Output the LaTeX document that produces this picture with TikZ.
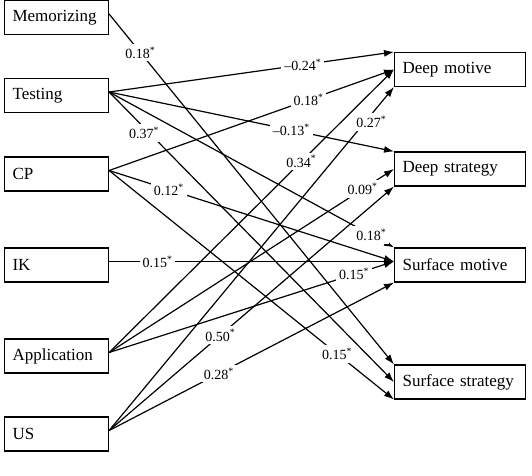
\documentclass[tikz,border=0pt]{standalone}
\usepackage{fontspec}
\setmainfont{Liberation Serif}
\usetikzlibrary{arrows.meta}
\newcommand\psig{\textsuperscript{*}}
\begin{document}
\begin{tikzpicture}[x=1pt,y=-1pt,
  box/.style={draw, line width=1.1pt, minimum height=34pt, inner xsep=8pt, inner ysep=0pt,
    align=left, font=\fontsize{17}{20}\selectfont, anchor=west},
  lbox/.style={box, text width=88pt},
  rbox/.style={box, text width=115pt},
  arr/.style={line width=1.2pt, -{Latex[length=10pt,width=7pt]}},
  lab/.style={fill=white, inner xsep=3pt, inner ysep=3pt, font=\fontsize{14}{16}\selectfont}]
\useasboundingbox (0,0) rectangle (532,475);
% left boxes
\node[lbox] (mem) at (4,17.5) {Memorizing};
\node[lbox] (tst) at (4,95.5) {Testing};
\node[lbox] (cp)  at (4,174) {CP};
\node[lbox] (ik)  at (4,265) {IK};
\node[lbox] (app) at (4,356) {Application};
\node[lbox] (us)  at (4,434) {US};
% right boxes
\node[rbox] (dm) at (394,69.5) {Deep motive};
\node[rbox] (ds) at (394,169) {Deep strategy};
\node[rbox] (sm) at (394,265) {Surface motive};
\node[rbox] (ss) at (394,382) {Surface strategy};
% source points
\coordinate (memo) at ([yshift=3.5pt]mem.east);
\coordinate (tsto) at ([yshift=3.5pt]tst.east);
\coordinate (cpo)  at ([yshift=3.5pt]cp.east);
\coordinate (iko)  at ([yshift=3.5pt]ik.east);
\coordinate (appo) at ([yshift=3.5pt]app.east);
\coordinate (uso)  at ([yshift=3.5pt]us.east);
\coordinate (smw)  at ([yshift=3.5pt]sm.west);
% paths
\draw[arr] (memo) -- node[lab,pos=0.11]{0.18\psig} (ss.north west);
\draw[arr] (tsto) -- node[lab,pos=0.68]{--0.24\psig} (dm.north west);
\draw[arr] (tsto) -- node[lab,pos=0.64]{--0.13\psig} (ds.north west);
\draw[arr] (tsto) -- node[lab,pos=0.92]{0.18\psig} (sm.north west);
\draw[arr] (tsto) -- node[lab,pos=0.14,xshift=-5pt]{0.37\psig} (ss.west);
\draw[arr] (cpo) -- node[lab,pos=0.70]{0.18\psig} (dm.west);
\draw[arr] (cpo) -- node[lab,pos=0.21]{0.12\psig} (smw);
\draw[arr] (cpo) -- node[lab,pos=0.80]{0.15\psig} (ss.south west);
\draw[arr] (iko) -- node[lab,pos=0.17]{0.15\psig} (smw);
\draw[arr] (appo) -- node[lab,pos=0.675]{0.34\psig} (dm.west);
\draw[arr] (appo) -- node[lab,pos=0.89]{0.09\psig} (ds.west);
\draw[arr] (appo) -- node[lab,pos=0.86]{0.15\psig} (smw);
\draw[arr] (uso) -- node[lab,pos=0.91,xshift=3pt,yshift=-4pt]{0.27\psig} (dm.south west);
\draw[arr] (uso) -- node[lab,pos=0.39]{0.50\psig} (ds.south west);
\draw[arr] (uso) -- node[lab,pos=0.385]{0.28\psig} (sm.south west);
\end{tikzpicture}
\end{document}
